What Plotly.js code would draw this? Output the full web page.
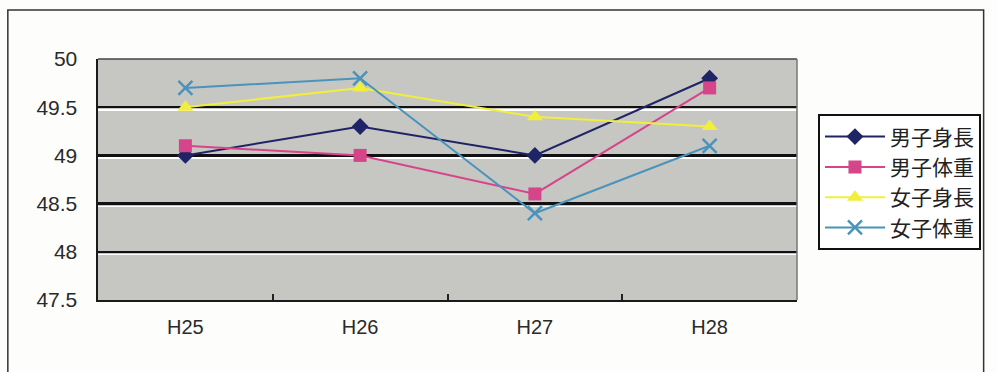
<!DOCTYPE html>
<html>
<head>
<meta charset="utf-8">
<script src="https://cdn.plot.ly/plotly-3.0.1.min.js"></script>
<style>
  html, body { margin: 0; padding: 0; background: #fdfdfb; }
  #chart { width: 997px; height: 372px; }
</style>
</head>
<body>
<div id="chart"></div>
<script>
// School years (Heisei era)
const years = ['H25', 'H26', 'H27', 'H28'];

// Series values
const boysHeight = [49.0, 49.3, 49.0, 49.8];
const boysWeight = [49.1, 49.0, 48.6, 49.7];
const girlsHeight = [49.5, 49.7, 49.4, 49.3];
const girlsWeight = [49.7, 49.8, 48.4, 49.1];

const yTicks = [47.5, 48, 48.5, 49, 49.5, 50];
const yTickText = ['47.5', '48', '48.5', '49', '49.5', '50'];

const fontFamily = 'Liberation Sans, Arial, sans-serif';

function series(name, y, color, symbol, size) {
  return {
    type: 'scatter', mode: 'lines+markers', name: name, legendgroup: name,
    x: years, y: y,
    line: { color: color, width: 2 },
    marker: { symbol: symbol, size: size, color: color,
              line: { color: color, width: symbol === 'x-thin' ? 2.5 : 0 } }
  };
}

const traces = [
  series('男子身長', boysHeight, '#1e2466', 'diamond', 13),
  series('男子体重', boysWeight, '#d6448a', 'square', 13),
  series('女子身長', girlsHeight, '#f2ee3c', 'triangle-up', 14),
  series('女子体重', girlsWeight, '#4a93bd', 'x-thin', 14)
];

const layout = {
  width: 997, height: 372,
  margin: { l: 98, r: 200, t: 59, b: 72 },
  paper_bgcolor: '#fdfdfb',
  plot_bgcolor: '#c6c7c2',
  showlegend: true,
  legend: {
    x: 1.03, xanchor: 'left', y: 0.77, yanchor: 'top',
    bgcolor: '#ffffff', bordercolor: '#111111', borderwidth: 2,
    font: { family: 'Noto Sans CJK JP, sans-serif', size: 21, color: '#222' },
    traceorder: 'grouped', tracegroupgap: 0, itemwidth: 60
  },
  xaxis: {
    type: 'category', range: [-0.5, 3.5],
    tickson: 'boundaries', ticks: 'inside', ticklen: 6, tickwidth: 2, tickcolor: '#222',
    showgrid: false,
    showline: true, linecolor: '#1a1a1a', linewidth: 2, mirror: false,
    tickfont: { family: fontFamily, size: 20, color: '#2a2a2a' },
    ticklabelstandoff: 8
  },
  yaxis: {
    range: [47.5, 50],
    tickvals: yTicks, ticktext: yTickText,
    showgrid: true, gridcolor: '#111111', gridwidth: 2.5,
    showline: true, linecolor: '#1a1a1a', linewidth: 2.5,
    zeroline: false, ticks: '',
    tickfont: { family: fontFamily, size: 21, color: '#2a2a2a' },
    ticklabelstandoff: 14
  },
  // white highlight drawn just under each black gridline
  yaxis2: {
    overlaying: 'y', side: 'left',
    range: [47.5 + 0.028, 50 + 0.028],
    tickvals: yTicks.slice(1, 5),
    showticklabels: false, ticks: '',
    showgrid: true, gridcolor: '#ffffff', gridwidth: 1.5,
    showline: false, zeroline: false
  },
  shapes: [
    // top and right edge of the plot area
    { type: 'line', xref: 'paper', yref: 'paper', x0: 0, x1: 1, y0: 1, y1: 1,
      line: { color: '#444', width: 1.5 } },
    { type: 'line', xref: 'paper', yref: 'paper', x0: 1, x1: 1, y0: 0, y1: 1,
      line: { color: '#777', width: 1.5 } },
    // outer chart frame
    { type: 'rect', xref: 'paper', yref: 'paper',
      x0: -0.129, x1: 1.267, y0: -0.4, y1: 1.203,
      line: { color: '#333', width: 1.5 }, layer: 'below' }
  ]
};

// invisible trace anchoring the highlight axis
traces.push({ type: 'scatter', x: [years[0]], y: [null], yaxis: 'y2',
              showlegend: false, hoverinfo: 'skip' });

Plotly.newPlot('chart', traces, layout, { staticPlot: true });
</script>
</body>
</html>
